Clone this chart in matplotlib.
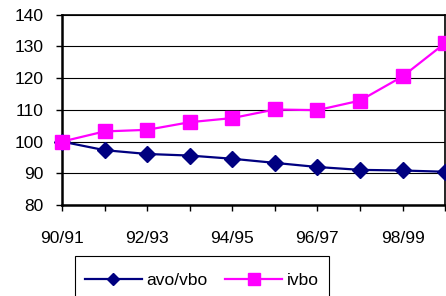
import matplotlib.pyplot as plt
from matplotlib.patches import Rectangle

plt.rcParams['font.family'] = ['Liberation Sans', 'DejaVu Sans']

years = ["90/91", "91/92", "92/93", "93/94", "94/95",
         "95/96", "96/97", "97/98", "98/99", "99/00"]
avo_vbo = [100, 97.3, 96.1, 95.6, 94.6, 93.3, 92.0, 91.1, 90.9, 90.5]
ivbo = [100, 103.2, 103.7, 106.1, 107.4, 110.1, 109.9, 112.9, 120.5, 131.0]

fig = plt.figure(figsize=(4.46, 2.96), dpi=100)
ax = fig.add_axes([0.139, 0.307, 0.859, 0.644])

x = list(range(len(years)))
ax.plot(x, avo_vbo, color="#000080", lw=1.6, marker="D", markersize=8,
        label="avo/vbo", clip_on=False, zorder=3)
ax.plot(x, ivbo, color="#FF00FF", lw=1.6, marker="s", markersize=10,
        label="ivbo", clip_on=False, zorder=4)

ax.set_xlim(0, len(years) - 1)
ax.set_ylim(80, 140)
ax.set_yticks(range(80, 141, 10))
ax.set_xticks(x)
ax.set_xticklabels([lab if i % 2 == 0 else "" for i, lab in enumerate(years)])
ax.yaxis.grid(True, color="black", lw=0.8)
ax.set_axisbelow(True)

for side in ["left", "bottom"]:
    ax.spines[side].set_linewidth(1.8)
for side in ["top", "right"]:
    ax.spines[side].set_linewidth(1.2)

ax.tick_params(axis="both", labelsize=12.5, width=1, length=4.3, color="black")
ax.tick_params(axis="x", pad=14.5)
ax.tick_params(axis="y", pad=9)

# legend box runs off the bottom edge, as in the original
fig.patches.append(Rectangle((0.168, -0.05), 0.570, 0.185, transform=fig.transFigure,
                             fill=False, edgecolor="black", lw=0.8))
leg = fig.legend(loc="center left", bbox_to_anchor=(0.19, 0.054), ncol=2,
                 fontsize=12.5, frameon=False, borderpad=0,
                 handlelength=3.3, columnspacing=1.0, handletextpad=0.25,
                 borderaxespad=0, markerscale=0.8)

fig.savefig("out.png", dpi=100)
